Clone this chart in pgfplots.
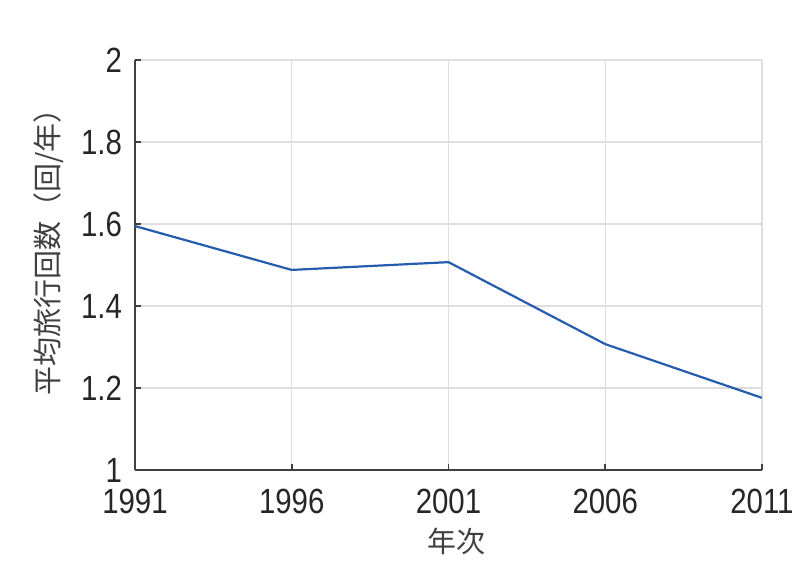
\documentclass[border=0pt]{standalone}
\usepackage{fontspec}
\setmainfont{Liberation Sans}[FakeStretch=0.84]
\newfontfamily\cjk{Noto Sans CJK JP}
\usepackage{pgfplots}
\pgfplotsset{compat=1.18}
\definecolor{lineblue}{rgb}{0.15,0.36,0.68}
\definecolor{axgray}{gray}{0.25}
\definecolor{gridgray}{gray}{0.87}
\begin{document}
\begin{tikzpicture}
% 1px of the reference = 0.5pt
\useasboundingbox (-67.5pt,-49.5pt) rectangle (332.5pt,235pt);
\begin{axis}[
    scale only axis,
    width=313.5pt, height=205pt,
    at={(0,0)}, anchor=south west,
    xmin=1991, xmax=2011, ymin=1, ymax=2,
    xtick={1991,1996,2001,2006,2011},
    ytick={1,1.2,1.4,1.6,1.8,2},
    /pgf/number format/assume math mode=true,
    xticklabel style={/pgf/number format/1000 sep={}, anchor=center, yshift=-15.5pt, font=\fontsize{17.5}{20}\selectfont, text=axgray!60!black},
    yticklabel style={/pgf/number format/fixed, anchor=east, xshift=-3pt, font=\fontsize{17.5}{20}\selectfont, text=axgray!60!black},
    scaled ticks=false,
    axis x line*=bottom, axis y line*=left,
    axis line style={axgray, line width=1pt, -},
    tick style={axgray, line width=0.8pt},
    tick align=inside,
    major tick length=3pt,
    grid=major,
    major grid style={gridgray, line width=0.7pt},
    xlabel={\cjk 年次},
    ylabel={\cjk 平均旅行回数（回/年）},
    xlabel style={at={(axis description cs:0.5,0)}, anchor=center, yshift=-35.5pt, xshift=4pt, font=\fontsize{14.5}{16}\selectfont, text=axgray},
    ylabel style={at={(axis description cs:0,0.549)}, anchor=center, yshift=43pt, font=\fontsize{14.5}{16}\selectfont, text=axgray},
]
\addplot[lineblue, line width=1.1pt, mark=none] coordinates {
    (1991,1.595) (1996,1.488) (2001,1.507) (2006,1.307) (2011,1.176)
};
\end{axis}
\end{tikzpicture}
\end{document}
